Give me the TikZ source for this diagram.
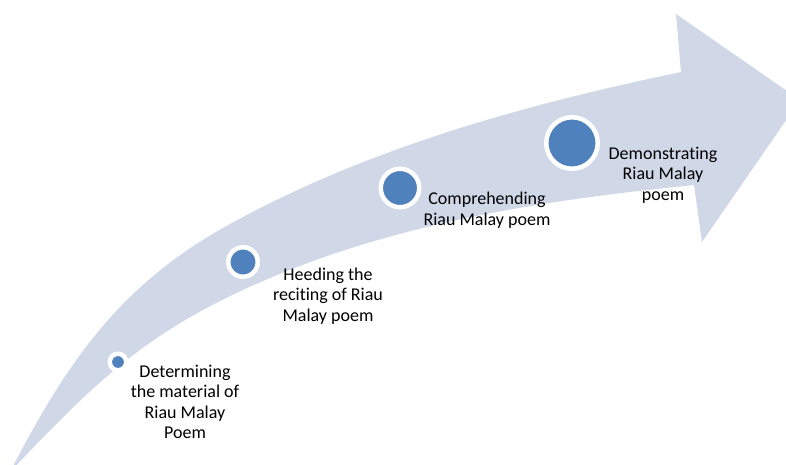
\documentclass[tikz,border=0pt]{standalone}
\usepackage{fontspec}
\setmainfont[Ligatures={NoCommon}]{Carlito}

\definecolor{bandfill}{HTML}{D0D8E8}
\definecolor{dotfill}{HTML}{4F81BD}

\begin{document}
\begin{tikzpicture}[x=1pt, y=-1pt,
                    milestone/.style={circle, draw=white, fill=dotfill,
                                      line width=4.5pt, inner sep=0pt},
                    caption/.style={align=center, inner sep=0pt},
                    font=\fontsize{18pt}{20.5pt}\selectfont]
  % Page area.
  \useasboundingbox (0,0) rectangle (786,465);
  \clip (0,0) rectangle (786,465);

  % Curved arrow: upper edge, head, lower edge back to the tail.
  \fill [bandfill] (10,472)
        .. controls (67.5,360.75) and (120.5,284) .. (230,224)
        .. controls (370,147.2) and (524.5,104.8) .. (681,72)
        -- (676,14) -- (800,100) -- (702,242) -- (694,185)
        .. controls (549.7,199.5) and (403.4,221.4) .. (270,278)
        .. controls (150.4,328.7) and (99.7,377.1) .. (10,472)
        -- cycle;

  % Milestones.
  \node at (118,362) [milestone, minimum size=16.5pt, name=Determining] {};
  \node at (243,262) [milestone, minimum size=29.5pt, name=Heeding] {};
  \node at (400,188) [milestone, minimum size=38.5pt, name=Comprehending] {};
  \node at (572,143) [milestone, minimum size=51.5pt, name=Demonstrating] {};

  % Captions.
  \node at (185,402) [caption, name=DeterminingText]
        {Determining\\the material of\\Riau Malay\\Poem};
  \node at (328,296) [caption, name=HeedingText]
        {Heeding the\\reciting of Riau\\Malay poem};
  \node at (487,210) [caption, name=ComprehendingText]
        {Comprehending\\Riau Malay poem};
  \node at (663,175) [caption, name=DemonstratingText]
        {Demonstrating\\Riau Malay\\poem};
\end{tikzpicture}
\end{document}
